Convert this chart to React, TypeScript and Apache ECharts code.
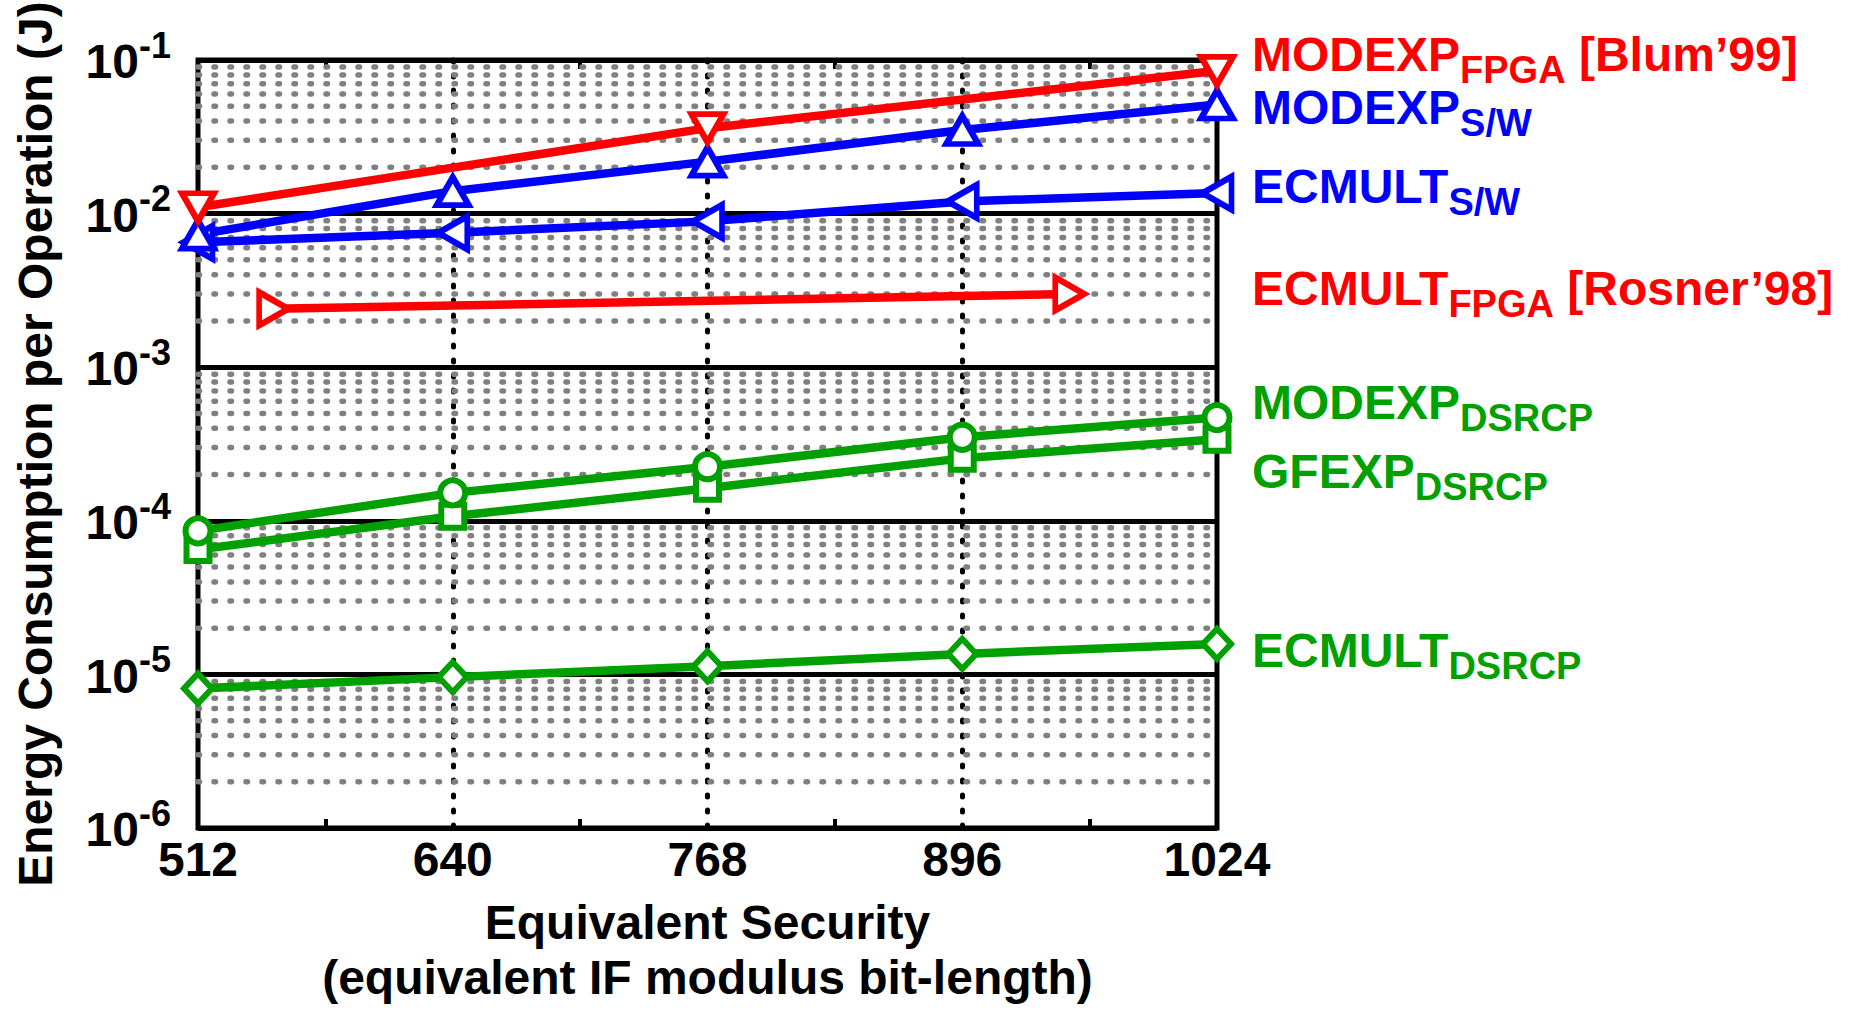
import React, { useEffect, useRef } from "react";
import * as echarts from "echarts";

// ---- data ----
const xTicks = [512, 640, 768, 896, 1024];
const yTickExponents = ["-6", "-5", "-4", "-3", "-2", "-1"];

const bits = [512, 640, 768, 896, 1024];
const modexpFpgaBits = [512, 768, 1024];
const modexpFpga = [0.011, 0.036, 0.085];
const modexpSw = [0.0073, 0.014, 0.0218, 0.035, 0.0513];
const ecmultSw = [0.0065, 0.0075, 0.0089, 0.012, 0.0136];
const ecmultFpgaBits = [550, 950];
const ecmultFpga = [0.0024, 0.003];
const modexpDsrcp = [8.6e-5, 1.52e-4, 2.25e-4, 3.5e-4, 4.7e-4];
const gfexpDsrcp = [6.5e-5, 1.07e-4, 1.63e-4, 2.55e-4, 3.4e-4];
const ecmultDsrcp = [8.1e-6, 9.6e-6, 1.13e-5, 1.36e-5, 1.58e-5];

const minorMultipliers = [2, 3, 4, 5, 6, 7, 8, 9];
const minorDecades = [1e-6, 1e-5, 1e-4, 1e-3, 1e-2];

const labelMain = ["MODEXP", "MODEXP", "ECMULT", "ECMULT", "MODEXP", "GFEXP", "ECMULT"];
const labelSub = ["FPGA", "S/W", "S/W", "FPGA", "DSRCP", "DSRCP", "DSRCP"];
const labelRef = [" [Blum\u201999]", "", "", " [Rosner\u201998]", "", "", ""];

// ---- styles / layout ----
const RED = "#ff0000";
const BLUE = "#0000ff";
const GREEN = "#00a000";
const labelColors = [RED, BLUE, BLUE, RED, GREEN, GREEN, GREEN];
const labelCapCenters = [54, 107, 186, 288, 402, 471, 650];
const FONT = "'Liberation Sans', Arial, Helvetica, sans-serif";

export default function App() {
  const ref = useRef<HTMLDivElement>(null);

  useEffect(() => {
    const chart = echarts.init(ref.current!, null, { renderer: "svg" });

    const mk = (
      xs: number[],
      ys: number[],
      color: string,
      symbol: string,
      size: number | number[],
      rotate: number
    ) => ({
      type: "line",
      data: xs.map((x, i) => [x, ys[i]]),
      symbol,
      symbolSize: size,
      symbolRotate: rotate,
      showAllSymbol: true,
      clip: false,
      silent: true,
      z: 3,
      lineStyle: { color, width: 8.5 },
      itemStyle: { color: "#ffffff", borderColor: color, borderWidth: 6 },
    });

    const gridSeries: any[] = [];
    minorDecades.forEach((d) =>
      minorMultipliers.forEach((m) =>
        gridSeries.push({
          type: "line",
          data: [
            [xTicks[0], m * d],
            [xTicks[xTicks.length - 1], m * d],
          ],
          symbol: "none",
          silent: true,
          clip: false,
          z: 1,
          lineStyle: { color: "#808080", width: 5.5, type: [1.5, 14.5], cap: "round" },
        })
      )
    );

    const minorTick = {
      show: true,
      splitNumber: 2,
      length: 9,
      lineStyle: { color: "#000", width: 4 },
    };

    const richM = {
      fontSize: 48,
      fontWeight: "bold",
      fontFamily: FONT,
      font: `bold 48px ${FONT}`,
      lineHeight: 59,
      verticalAlign: "top",
    };
    const richS = {
      fontSize: 38,
      fontWeight: "bold",
      fontFamily: FONT,
      font: `bold 38px ${FONT}`,
      verticalAlign: "bottom",
    };

    const graphic = labelMain.map((m, i) => ({
      type: "text",
      x: 1252,
      y: labelCapCenters[i] - 24,
      silent: true,
      style: {
        text: `{m|${m}}{s|${labelSub[i]}}` + (labelRef[i] ? `{m|${labelRef[i]}}` : ""),
        fill: labelColors[i],
        align: "left",
        verticalAlign: "top",
        fontSize: 48,
        fontWeight: "bold",
        fontFamily: FONT,
        rich: { m: richM, s: richS },
      },
    }));

    chart.setOption({
      animation: false,
      grid: {
        left: 198,
        top: 60,
        width: 1019,
        height: 776,
        show: true,
        borderColor: "#000",
        borderWidth: 5,
        backgroundColor: "transparent",
      },
      xAxis: [
        {
          type: "value",
          position: "bottom",
          min: xTicks[0],
          max: xTicks[xTicks.length - 1],
          interval: 128,
          axisLine: { show: false },
          axisTick: { show: false, inside: true },
          minorTick,
          axisLabel: {
            margin: 7,
            fontSize: 48,
            fontWeight: "bold",
            fontFamily: FONT,
            color: "#000",
            formatter: (v: number) => String(v),
          },
          splitLine: {
            show: true,
            showMinLine: false,
            showMaxLine: false,
            lineStyle: { color: "#000", width: 5, type: [2, 13], cap: "round" },
          },
          name: "Equivalent Security\n(equivalent IF modulus bit-length)",
          nameLocation: "middle",
          nameGap: 67,
          nameTextStyle: {
            fontSize: 48,
            fontWeight: "bold",
            fontFamily: FONT,
            color: "#000",
            lineHeight: 55,
          },
        },
        {
          type: "value",
          position: "top",
          min: xTicks[0],
          max: xTicks[xTicks.length - 1],
          interval: 128,
          axisLine: { show: false },
          axisTick: { show: false, inside: true },
          minorTick,
          axisLabel: { show: false },
          splitLine: { show: false },
        },
      ],
      yAxis: {
        type: "log",
        logBase: 10,
        min: 1e-6,
        max: 0.1,
        axisLine: { show: false },
        axisTick: { show: false },
        axisLabel: {
          margin: 27,
          padding: [0, 0, 7, 0],
          color: "#000",
          formatter: (_v: number, idx: number) => `{b|10}{s|${yTickExponents[idx]}}`,
          rich: {
            b: {
              fontSize: 48,
              fontWeight: "bold",
              fontFamily: FONT,
              color: "#000",
              lineHeight: 58.5,
              verticalAlign: "bottom",
            },
            s: {
              fontSize: 36,
              fontWeight: "bold",
              fontFamily: FONT,
              color: "#000",
              verticalAlign: "top",
            },
          },
        },
        splitLine: { show: true, lineStyle: { color: "#000", width: 5 } },
        name: "Energy Consumption per Operation (J)",
        nameLocation: "middle",
        nameGap: 139,
        nameTextStyle: {
          fontSize: 48,
          fontWeight: "bold",
          fontFamily: FONT,
          color: "#000",
        },
      },
      graphic,
      series: [
        ...gridSeries,
        mk(bits, ecmultDsrcp, GREEN, "diamond", [28, 30], 0),
        mk(bits, gfexpDsrcp, GREEN, "rect", 23, 0),
        mk(bits, modexpDsrcp, GREEN, "circle", 25, 0),
        mk(ecmultFpgaBits, ecmultFpga, RED, "triangle", [33, 29], -90),
        mk(bits, ecmultSw, BLUE, "triangle", [33, 29], 90),
        mk(bits, modexpSw, BLUE, "triangle", [32, 28], 0),
        mk(modexpFpgaBits, modexpFpga, RED, "triangle", [32, 28], 180),
      ],
    });

    return () => chart.dispose();
  }, []);

  return (
    <div
      ref={ref}
      style={{ position: "absolute", left: 0, top: 0, width: 1850, height: 1010 }}
    />
  );
}
